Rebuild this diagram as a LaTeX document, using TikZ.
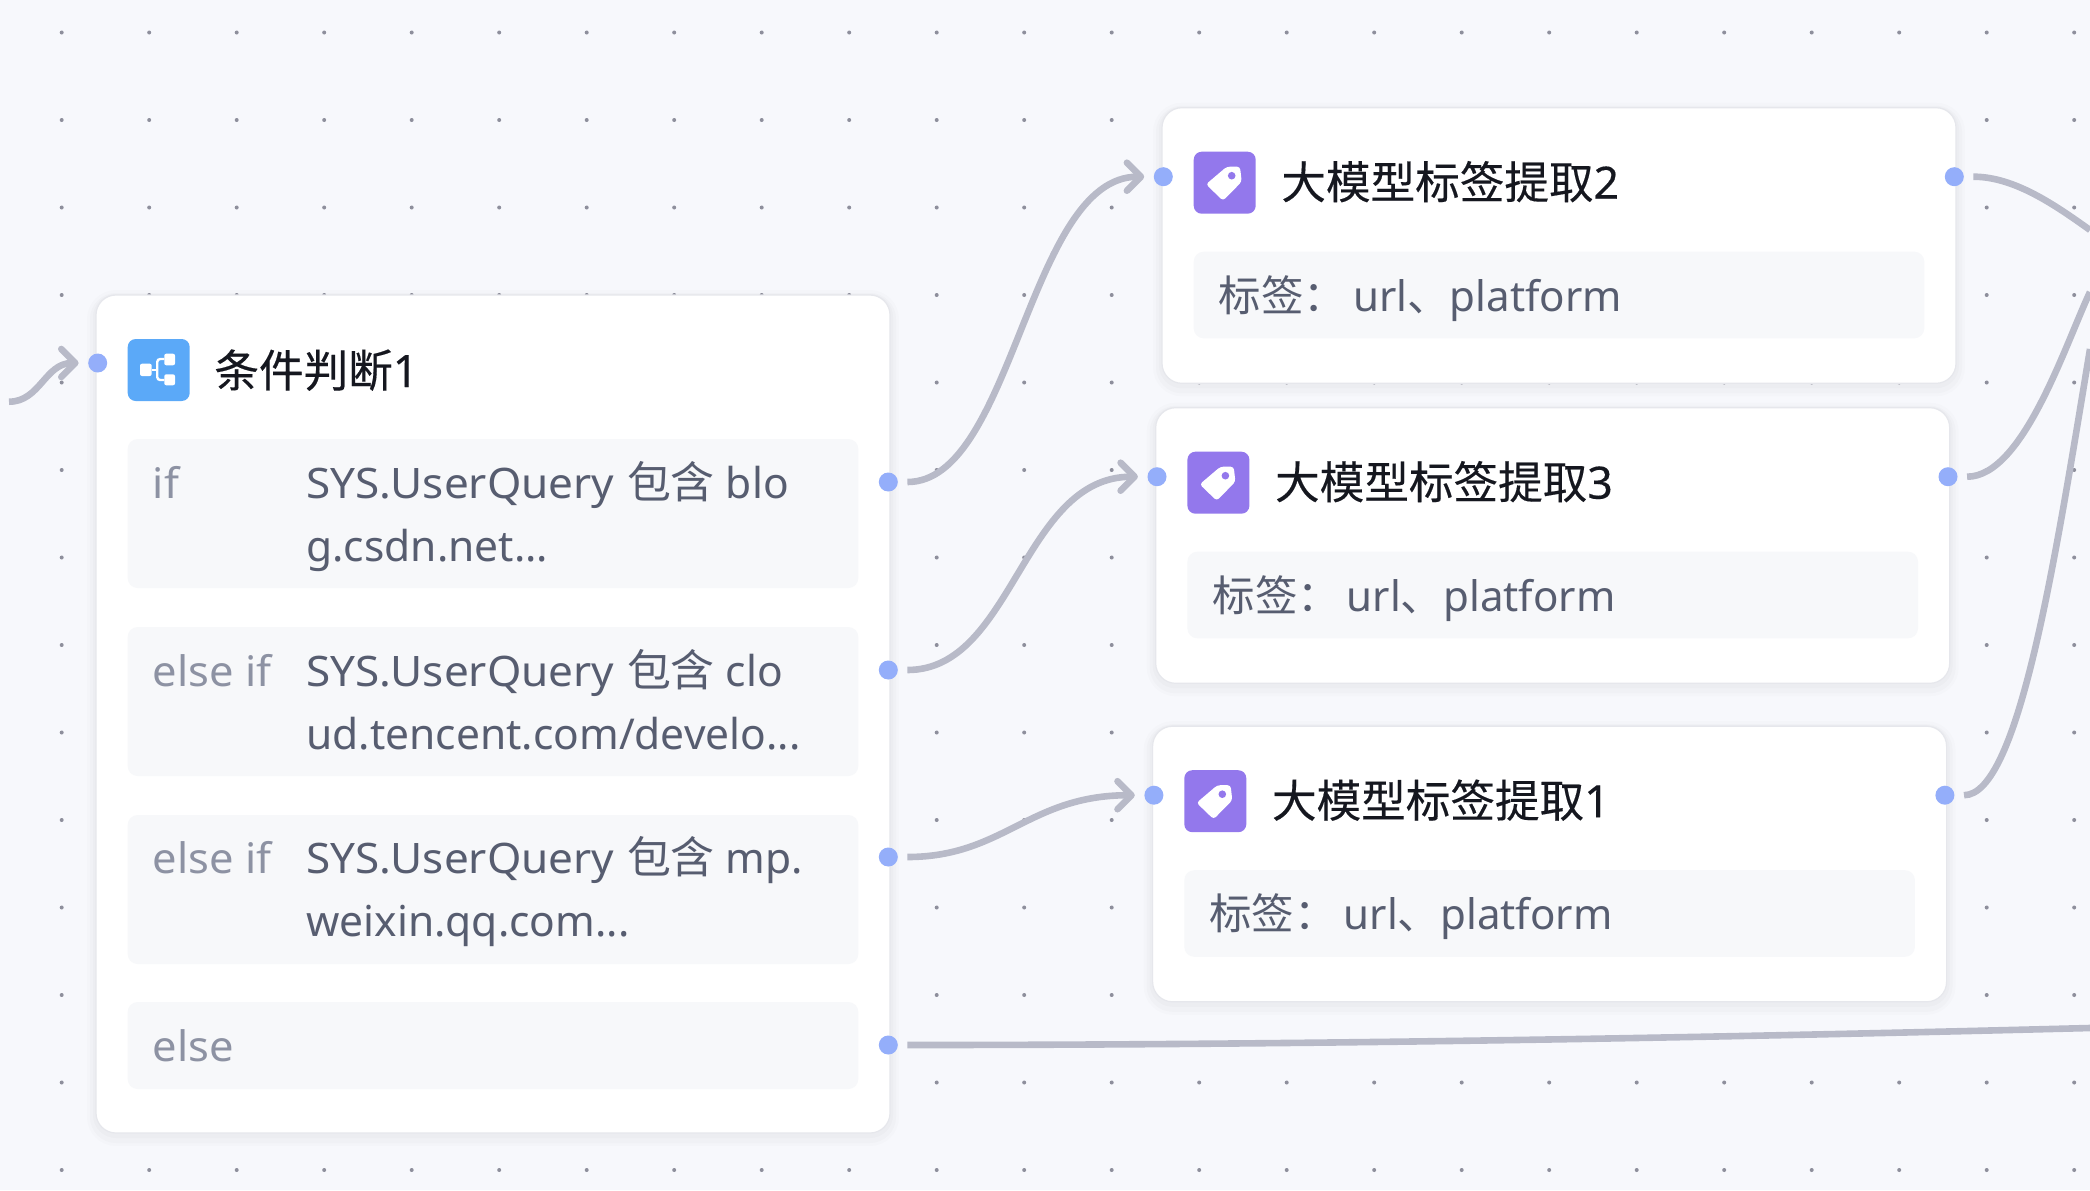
\documentclass[tikz,border=0pt]{standalone}
\usepackage{fontspec}
\setmainfont[Scale=1.012]{Noto Sans}
\newfontfamily\wide[FakeStretch=1.05]{Noto Sans}
\newfontfamily\widelabel[FakeStretch=1.035]{Noto Sans}
\newfontfamily\zh[Scale=1.02]{Noto Sans CJK SC}
\newfontfamily\zhwide[Scale=1.045]{Noto Sans CJK SC}
\newfontfamily\zhtitle[FakeBold=0.3]{Noto Sans CJK SC}
\newfontfamily\latintitle[FakeBold=0.3]{Noto Sans}
\usetikzlibrary{arrows.meta}
\definecolor{canvas}{HTML}{F7F8FC}
\definecolor{griddot}{HTML}{8E8F9C}
\definecolor{cardline}{HTML}{E6E7EC}
\definecolor{rowfill}{HTML}{F7F8FA}
\definecolor{portblue}{HTML}{94AEFA}
\definecolor{linkgrey}{HTML}{B8BAC8}
\definecolor{labelgrey}{HTML}{8D92A3}
\definecolor{bodygrey}{HTML}{575D70}
\definecolor{titleblack}{HTML}{15171F}
\definecolor{condblue}{HTML}{5BA9F8}
\definecolor{tagpurple}{HTML}{9378EC}
\tikzset{
    card/.style={draw=cardline, line width=0.6pt, fill=white, rounded corners=10pt,
        anchor=north west, inner sep=0pt, outer sep=0pt, minimum width=397pt,
        preaction={draw=black, draw opacity=0.012, line width=9pt, transform canvas={yshift=-2pt}},
        preaction={draw=black, draw opacity=0.014, line width=6pt, transform canvas={yshift=-2pt}},
        preaction={draw=black, draw opacity=0.016, line width=3pt, transform canvas={yshift=-1pt}}},
    rowbox/.style={fill=rowfill, rounded corners=5pt, anchor=north west, inner sep=0pt, outer sep=0pt, minimum width=365.3pt},
    iconbox/.style={rounded corners=4pt, anchor=north west, inner sep=0pt, outer sep=0pt, minimum size=31pt},
    port/.style={circle, fill=portblue, inner sep=0pt, minimum size=9.5pt, outer sep=4.8pt},
    link/.style={draw=linkgrey, line width=3.3pt, -{Straight Barb[length=7pt, width=14pt, round]}},
    plainlink/.style={draw=linkgrey, line width=3.3pt},
    titletext/.style={anchor=base west, inner sep=0pt, text=titleblack, font=\fontsize{22.3}{26}\selectfont},
    bodytext/.style={anchor=base west, inner sep=0pt, text=bodygrey, font=\fontsize{21}{25}\selectfont},
    labeltext/.style={bodytext, text=labelgrey, font=\fontsize{21}{25}\selectfont\widelabel},
}
\begin{document}
\begin{tikzpicture}[x=0.5pt, y=-0.5pt]
    \useasboundingbox (0,0) rectangle (2090,1190);
    \clip (0,0) rectangle (2090,1190);
    \fill[canvas] (0,0) rectangle (2090,1190);
    % Dot grid
    \foreach \i in {0,...,23}
        \foreach \j in {0,...,13}
            \fill[griddot] (61.7+\i*87.5, 32.5+\j*87.5) circle (1pt);
    % Condition card
    \node[card, minimum height=419pt] (cond) at (96,295) {};
    \node[iconbox, fill=condblue] (condicon) at (127.7,339) {};
    \begin{scope}[shift={(127.7,339)}]
        \fill[white, rounded corners=1pt] (12.3,24.7) rectangle (24,37);
        \fill[white, rounded corners=1pt] (36.6,14.7) rectangle (47.3,26.3);
        \fill[white, rounded corners=1pt] (36.6,35.3) rectangle (47.3,46.3);
        \draw[white, line width=1.2pt, rounded corners=1.5pt] (36.6,20) -- (29.5,20) -- (29.5,41) -- (36.6,41);
        \draw[white, line width=1.2pt] (24,31) -- (29.5,31);
    \end{scope}
    \node[titletext] (condtitle) at (214,387) {\zhtitle 条件判断\latintitle 1};
    % Branch rows
    \node[rowbox, minimum height=74.5pt] (rowa) at (127.7,439) {};
    \node[rowbox, minimum height=74.5pt] (rowb) at (127.7,627) {};
    \node[rowbox, minimum height=74.5pt] (rowc) at (127.7,815) {};
    \node[rowbox, minimum height=43.5pt] (rowd) at (127.7,1002) {};
    \node[labeltext] (kwa) at (152.5,498) {if};
    \node[bodytext] (texta) at (306,498) {{\wide SYS.UserQuery}\hspace{0.8pt} {\zhwide 包含} blo};
    \node[bodytext] (textaa) at (306,561) {g.csdn.net...};
    \node[labeltext] (kwb) at (152.5,686) {else if};
    \node[bodytext] (textb) at (306,686) {{\wide SYS.UserQuery}\hspace{0.8pt} {\zhwide 包含} clo};
    \node[bodytext] (textbb) at (306,749) {ud.tencent.com/develo...};
    \node[labeltext] (kwc) at (152.5,873.5) {else if};
    \node[bodytext] (textc) at (306,873.5) {{\wide SYS.UserQuery}\hspace{0.8pt} {\zhwide 包含} mp.};
    \node[bodytext] (textcc) at (306,936.5) {weixin.qq.com...};
    \node[labeltext] (kwd) at (152.5,1061) {else};
    % Ports of the condition card
    \node[port] (condin) at (97.7,363) {};
    \node[port] (outa) at (888.3,482) {};
    \node[port] (outb) at (888.3,670) {};
    \node[port] (outc) at (888.3,857) {};
    \node[port] (outd) at (888.3,1045) {};
    % Extraction cards
    \foreach \name/\x/\y/\num in {two/1162/107.7/2, three/1155.7/407.7/3, one/1152.6/726.2/1} {
        \node[card, minimum height=137.8pt] (\name) at (\x,\y) {};
        \begin{scope}[shift={(\x,\y)}]
            \node[iconbox, fill=tagpurple] (\name icon) at (31.7,44) {};
            \begin{scope}[shift={(31.7,44)}]
                \fill[white, rounded corners=1.5pt]
                    (33,15) -- (46.3,15) -- (48,30) -- (29.3,49) -- (12.3,32.6) -- cycle;
                \fill[tagpurple] (38,24) circle (1.9pt);
            \end{scope}
            \node[titletext] (\name title) at (119,91) {\zhtitle 大模型标签提取\latintitle\num};
            \node[rowbox, minimum height=43.3pt] (\name row) at (31.7,144) {};
            \node[bodytext, font=\fontsize{20.8}{25}\selectfont] (\name text) at (56.5,203.5) {{\zh 标签：}\hspace{3.4pt}url{\zh 、}platform};
            \node[port] (\name in) at (1.3,69) {};
            \node[port] (\name out) at (792.3,69) {};
        \end{scope}
    }
    % Connectors
    \coordinate (inlet) at (9,401.7);
    \coordinate (exittwo) at (2090,230);
    \coordinate (exitthree) at (2090,292);
    \coordinate (exitone) at (2090,349);
    \coordinate (exitelse) at (2090,1028);
    \draw[link] (inlet) .. controls (40,401.7) and (45,363) .. (condin);
    \draw[link] (outa) .. controls +(125,0) and +(-135,0) .. (twoin);
    \draw[link] (outb) .. controls +(125,0) and +(-135,0) .. (threein);
    \draw[link] (outc) .. controls +(115,0) and +(-125,0) .. (onein);
    \draw[plainlink] (outd) .. controls (1300,1045) and (1700,1038) .. (exitelse);
    \draw[plainlink] (twoout) .. controls +(60,0) and (2055,205) .. (exittwo);
    \draw[plainlink] (threeout) .. controls +(75,0) and (2065,345) .. (exitthree);
    \draw[plainlink] (oneout) .. controls +(74,0) and (2055,560) .. (exitone);
\end{tikzpicture}
\end{document}
